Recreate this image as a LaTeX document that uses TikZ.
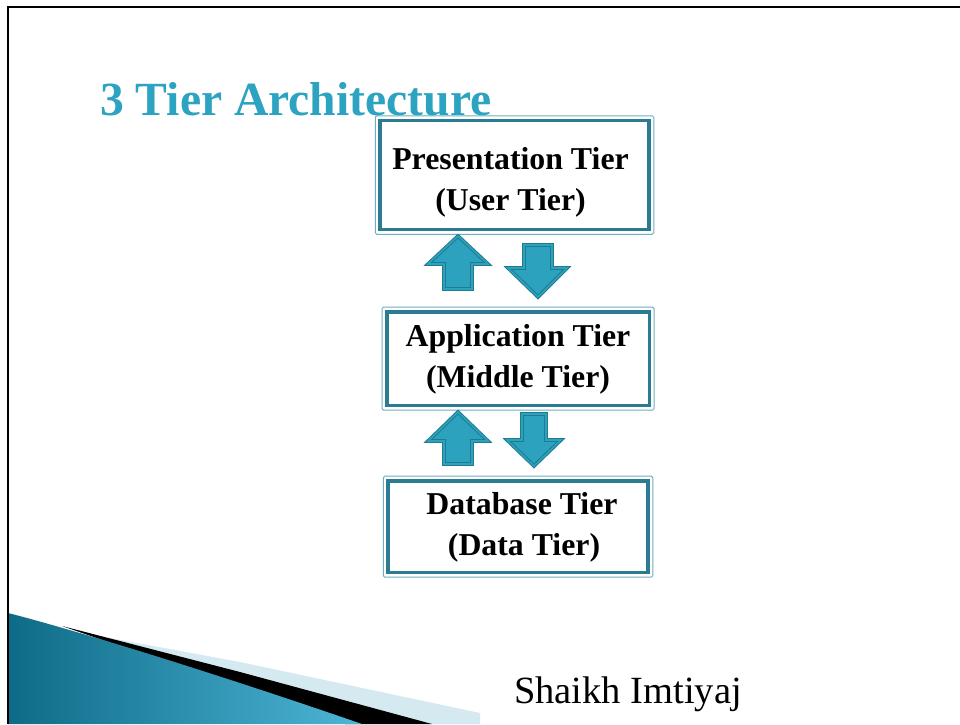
\documentclass[tikz,border=0pt]{standalone}
\usepackage{fontspec}
\setmainfont{Liberation Serif}
\definecolor{titleblue}{HTML}{2CA3C1}
\definecolor{boxteal}{HTML}{2B7C92}
\definecolor{boxlight}{HTML}{6FAFC0}
\definecolor{arrowfill}{HTML}{2DA2BF}
\definecolor{arrowline}{HTML}{1F7B90}
\definecolor{wedgedark}{HTML}{0E6B87}
\definecolor{wedgelight}{HTML}{4DB5D6}
\definecolor{paleblue}{HTML}{D5E9F1}
\tikzset{
  tierbox/.style={draw=boxteal, line width=3.5pt, fill=white, inner sep=0pt},
  tiertext/.style={align=center, inner sep=0pt,
    font=\fontsize{31.8}{41}\selectfont\bfseries},
  outerline/.style={draw=boxlight, line width=1pt, rounded corners=1.5pt},
  blockarrow/.style={fill=arrowfill, draw=arrowline, line width=1pt, double=arrowfill,
    double distance=1.6pt, line join=miter},
}
\begin{document}
\begin{tikzpicture}[x=1pt,y=-1pt]
\useasboundingbox (0,0) rectangle (960,724);
\fill[white] (0,0) rectangle (960,724);

% bottom-left decoration
\fill[paleblue] (110,638) -- (240,662) -- (480,713) -- (480,724) -- (300,724) -- cycle;
\fill[black] (62,626) -- (240,672) -- (432,724) -- (345,724) -- cycle;
\shade[left color=wedgedark, right color=wedgelight]
  (8,613) .. controls (60,626) and (200,668) .. (362,724) -- (8,724) -- cycle;

% frame lines
\draw[black, line width=2pt] (8.2,724) -- (8.2,6.5) -- (960,6.5);

% title
\node[anchor=base west, text=titleblue, font=\fontsize{47.6}{56}\selectfont\bfseries, inner sep=0pt]
  (title) at (100,115) {3 Tier Architecture};

% boxes
\node[tierbox, minimum width=269pt, minimum height=109pt] (pres) at (514.5,175) {};
\draw[outerline] ([shift={(-3pt,3pt)}]pres.north west) rectangle ([shift={(3pt,-3pt)}]pres.south east);
\node[tiertext] (prestext) at (510.5,182) {Presentation Tier\\(User Tier)};

\node[tierbox, minimum width=262.5pt, minimum height=93.5pt] (app) at (518,358.7) {};
\draw[outerline] ([shift={(-3pt,3pt)}]app.north west) rectangle ([shift={(3pt,-3pt)}]app.south east);
\node[tiertext] (apptext) at (518,359) {Application Tier\\(Middle Tier)};

\node[tierbox, minimum width=260pt, minimum height=91.5pt] (db) at (518,526.7) {};
\draw[outerline] ([shift={(-3pt,3pt)}]db.north west) rectangle ([shift={(3pt,-3pt)}]db.south east);
\node[tiertext] (dbtext) at (522,527) {Database Tier\\\hspace*{4pt}(Data Tier)};

% block arrows
\draw[blockarrow] (444,289) -- (444,264) -- (428,264) -- (458,236) -- (488,264) -- (472,264) -- (472,289) -- cycle;
\draw[blockarrow] (524,245) -- (552,245) -- (552,268) -- (567,268) -- (538,297) -- (508,268) -- (524,268) -- cycle;
\draw[blockarrow] (444,464) -- (444,441) -- (428,441) -- (458,412) -- (488,441) -- (472,441) -- (472,464) -- cycle;
\draw[blockarrow] (522,414) -- (546,414) -- (546,440) -- (561,440) -- (534,466) -- (507,440) -- (522,440) -- cycle;

% author
\node[anchor=base west, font=\fontsize{38.5}{42}\selectfont, inner sep=0pt] (author) at (514,703) {Shaikh Imtiyaj};
\end{tikzpicture}
\end{document}
